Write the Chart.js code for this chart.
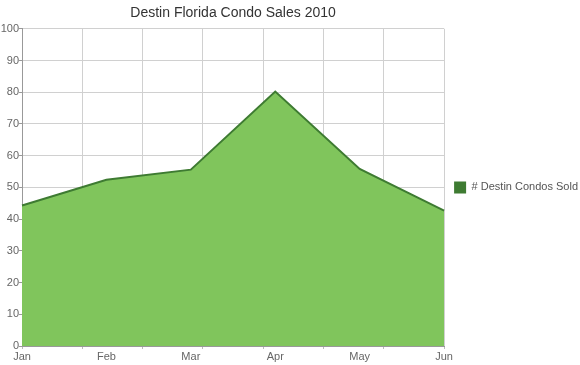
<!DOCTYPE html>
<html><head><meta charset="utf-8">
<script src="https://cdn.jsdelivr.net/npm/chart.js@4"></script>
<style>html,body{margin:0;padding:0;background:#fff}#w{width:580px;height:365px}</style>
</head><body><div id="w"><canvas id="c"></canvas></div>
<script>
const categories = ["Jan","Feb","Mar","Apr","May","Jun"];
const condosSold = [44.3, 52.4, 55.6, 80.2, 55.8, 42.7];
const yTicks = [0,10,20,30,40,50,60,70,80,90,100];
const gridSteps = [0,1,2,3,4,5,6,7];
const seriesName = "# Destin Condos Sold";
const chartTitle = "Destin Florida Condo Sales 2010";

Chart.defaults.font.family = "'Liberation Sans', Arial, Helvetica, sans-serif";
Chart.defaults.color = "#666";

new Chart(document.getElementById('c'), {
  type: 'line',
  data: {
    labels: categories,
    datasets: [{
      label: seriesName,
      data: condosSold,
      fill: 'origin',
      backgroundColor: '#80c55c',
      borderColor: '#3e7b32',
      borderWidth: 2,
      pointRadius: 0,
      tension: 0,
      xAxisID: 'x',
      yAxisID: 'y'
    }]
  },
  options: {
    responsive: true,
    maintainAspectRatio: false,
    animation: false,
    layout: { padding: { left: 0, right: -8, top: 0, bottom: 0 } },
    plugins: {
      tooltip: { enabled: false },
      title: {
        display: true,
        text: chartTitle,
        fullSize: false,
        color: '#333',
        font: { size: 14, weight: 'normal' },
        padding: { top: 5, bottom: 7 }
      },
      legend: {
        position: 'right',
        fullSize: false,
        labels: {
          boxWidth: 12,
          boxHeight: 12,
          color: '#555',
          font: { size: 11 },
          padding: 10,
          generateLabels: (chart) => {
            const items = Chart.defaults.plugins.legend.labels.generateLabels(chart);
            items.forEach(i => { i.fillStyle = '#3e7b32'; i.strokeStyle = '#3e7b32'; i.lineWidth = 0; });
            return items;
          }
        }
      }
    },
    scales: {
      y: {
        min: 0, max: 100,
        afterFit: s => { s.width = 22; },
        afterBuildTicks: s => { s.ticks = yTicks.map(v => ({ value: v })); },
        ticks: { font: { size: 11 }, color: '#666', padding: 0 },
        grid: { color: '#d0d0d0', tickLength: 3, tickColor: '#999' },
        border: { color: '#999' }
      },
      xg: {
        type: 'linear', position: 'bottom', min: 0, max: 7,
        weight: 1,
        afterFit: s => { s.height = 0; },
        afterBuildTicks: s => { s.ticks = gridSteps.map(v => ({ value: v })); },
        ticks: { display: false },
        grid: { color: '#d0d0d0', tickLength: 3, tickColor: '#bbb', drawOnChartArea: true },
        border: { display: false }
      },
      x: {
        type: 'category', position: 'bottom', offset: false,
        weight: 2,
        afterFit: s => { s.height = 19; },
        ticks: { font: { size: 11 }, color: '#666', padding: 4, maxRotation: 0, autoSkip: false },
        grid: { display: false, drawTicks: false, tickLength: 0 },
        border: { color: '#999' }
      }
    }
  }
});
</script>
</body></html>
